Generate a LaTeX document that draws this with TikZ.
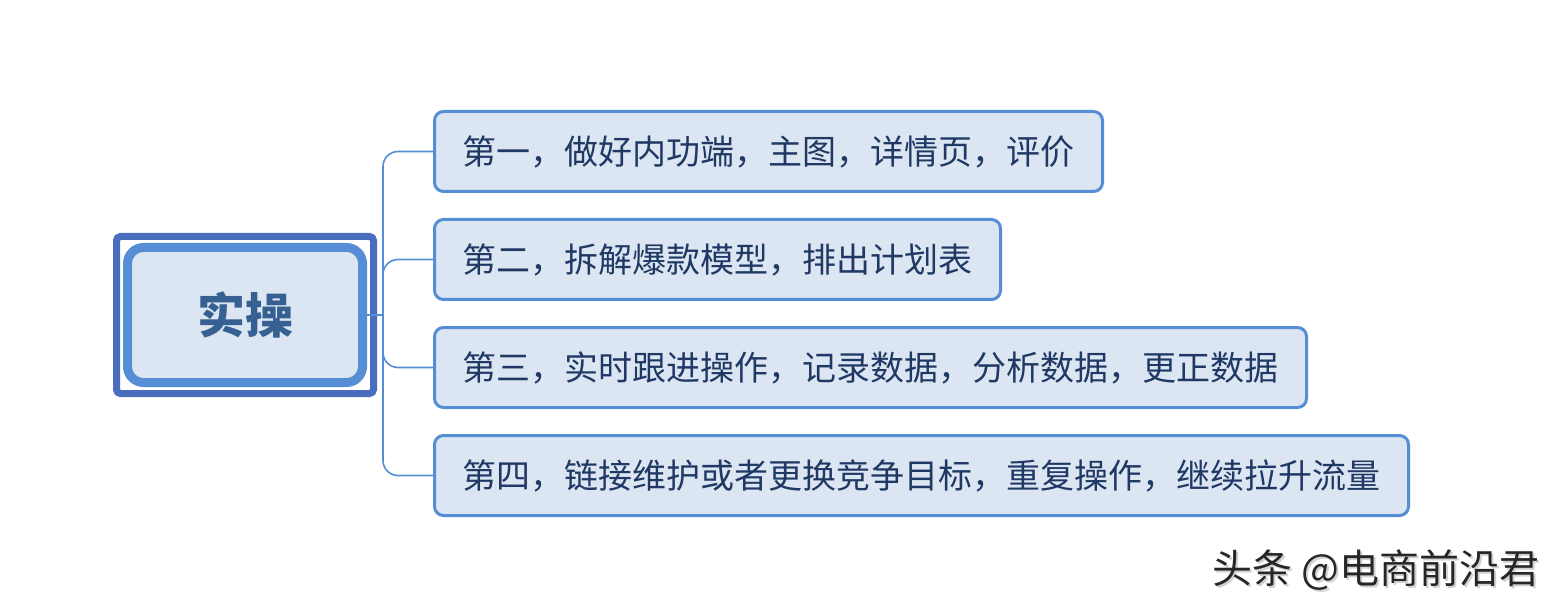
\documentclass[tikz,border=0pt]{standalone}
\usepackage{fontspec}
\newfontfamily\cjk{Noto Sans CJK SC}
\definecolor{boxline}{HTML}{558ED5}
\definecolor{boxfill}{HTML}{DCE6F2}
\definecolor{boxtext}{HTML}{1F3864}
\definecolor{roottext}{HTML}{376092}
\definecolor{rootouter}{HTML}{4A6EBD}
\tikzset{
  leafbox/.style={draw=boxline, fill=boxfill, line width=3pt, rounded corners=9pt,
    minimum height=80pt, inner xsep=28pt, inner ysep=0pt, anchor=west,
    font=\cjk\fontsize{34pt}{40pt}\selectfont, text=boxtext},
  conn/.style={draw=boxline, line width=1.6pt, rounded corners=15pt},
  wmark/.style={font=\cjk\fontsize{40pt}{46pt}\selectfont, anchor=west, inner sep=0pt},
}
\begin{document}
\begin{tikzpicture}[x=1pt,y=-1pt]
\useasboundingbox[fill=white] (0,0) rectangle (1554,609);
% root
\draw[rootouter, line width=7pt, rounded corners=4pt] (116.5,236.5) rectangle (373.5,393.5);
\node[draw=boxline, fill=boxfill, line width=9pt, rounded corners=16pt,
      minimum width=235pt, minimum height=135pt, inner sep=0pt,
      font=\cjk\bfseries\fontsize{48pt}{56pt}\selectfont, text=roottext]
      (root) at (245,315) {实操};
% leaves
\node[leafbox] (b1) at (433,151.5) {第一，做好内功端，主图，详情页，评价};
\node[leafbox] (b2) at (433,259.5) {第二，拆解爆款模型，排出计划表};
\node[leafbox] (b3) at (433,367.5) {第三，实时跟进操作，记录数据，分析数据，更正数据};
\node[leafbox] (b4) at (433,475.5) {第四，链接维护或者更换竞争目标，重复操作，继续拉升流量};
% connectors
\coordinate (j) at (383,315);
\draw[conn] (root.east) -- (j);
\draw[conn] (j) |- (b1.west);
\draw[conn] (j) |- (b2.west);
\draw[conn] (j) |- (b3.west);
\draw[conn] (j) |- (b4.west);
% watermark
\node[wmark, text=gray!35] (wms) at (1214,572) {头条 @电商前沿君};
\node[wmark, text=black!85] (wm) at (1212,570) {头条 @电商前沿君};
\end{tikzpicture}
\end{document}
